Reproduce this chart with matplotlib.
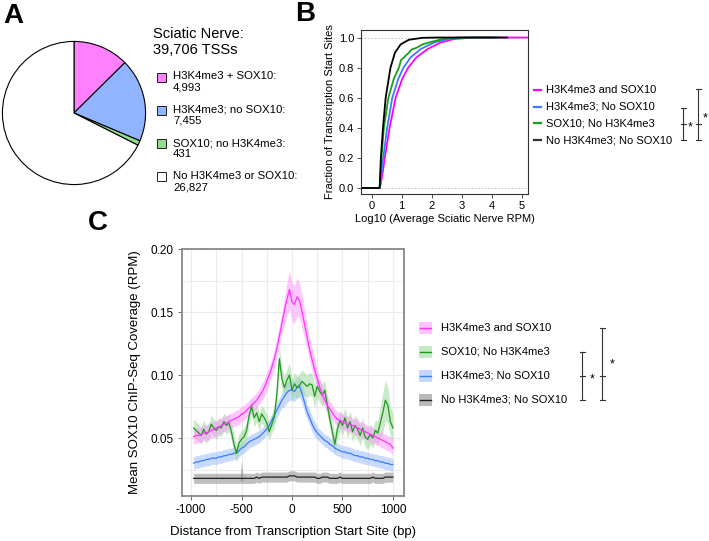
import matplotlib
matplotlib.use('Agg')
import matplotlib.pyplot as plt
import numpy as np
from matplotlib.patches import Rectangle

plt.rcParams['font.family'] = ['Liberation Sans', 'DejaVu Sans']
plt.rcParams['axes.unicode_minus'] = False

# ---- panel A: TSS categories ----
pie_labels = ['H3K4me3 + SOX10:', 'H3K4me3; no SOX10:', 'SOX10; no H3K4me3:', 'No H3K4me3 or SOX10:']
pie_counts = [4993, 7455, 431, 26827]
pie_colors = ['#ff80ff', '#90b4ff', '#90dd90', '#ffffff']

# ---- panel B: cumulative fraction of TSSs vs log10 RPM ----
b_labels = ['H3K4me3 and SOX10', 'H3K4me3; No SOX10', 'SOX10; No H3K4me3', 'No H3K4me3; No SOX10']
b_colors = ['#ff00ff', '#3a7bff', '#18a018', '#000000']
pink_x = [-0.35, 0.28, 0.36, 0.44, 0.6, 0.8, 1.02, 1.22, 1.49, 1.86, 2.3, 2.74, 3.36, 5.2]
pink_y = [0, 0, 0.088, 0.2, 0.4, 0.6, 0.725, 0.8, 0.868, 0.923, 0.967, 0.99, 1.0, 1.0]
blue_x = [-0.35, 0.27, 0.39, 0.52, 0.69, 0.89, 1.06, 1.3, 1.63, 2.08, 2.52, 3.1, 4.2]
blue_y = [0, 0, 0.2, 0.4, 0.6, 0.725, 0.8, 0.868, 0.923, 0.967, 0.99, 1.0, 1.0]
green_x = [-0.35, 0.27, 0.33, 0.41, 0.56, 0.74, 0.91, 0.98, 1.08, 1.24, 1.33, 1.52, 1.7, 1.91, 2.36, 2.9, 4.0]
green_y = [0, 0, 0.2, 0.4, 0.6, 0.725, 0.8, 0.85, 0.868, 0.9, 0.92, 0.934, 0.955, 0.967, 0.99, 1.0, 1.0]
black_x = [-0.35, 0.27, 0.31, 0.38, 0.47, 0.63, 0.78, 0.97, 1.24, 1.69, 2.2, 4.5]
black_y = [0, 0, 0.2, 0.4, 0.6, 0.8, 0.9, 0.955, 0.985, 0.998, 1.0, 1.0]

# ---- panel C: SOX10 ChIP-seq coverage around TSS ----
dist = np.arange(-975, 1001, 25)
c_labels = ['H3K4me3 and SOX10', 'SOX10; No H3K4me3', 'H3K4me3; No SOX10', 'No H3K4me3; No SOX10']
c_line = ['#ff33ff', '#1e9a1e', '#3a7bff', '#222222']
c_band = ['#ff99ff', '#9ed89e', '#9dbcff', '#8c8c8c']
pink_c = [.051, .052, .052, .053, .054, .054, .055, .056, .057, .058, .059, .060, .061, .062, .063, .064,
          .065, .066, .067, .069, .070, .072, .074, .076, .078, .080, .083, .086, .090, .095, .100, .106,
          .113, .121, .131, .141, .151, .160, .168, .158, .156, .162, .159, .150, .140, .130, .120, .112,
          .104, .097, .090, .085, .080, .076, .073, .070, .067, .065, .064, .063, .062, .061, .061, .060,
          .059, .058, .057, .056, .055, .054, .053, .052, .051, .050, .049, .048, .047, .046, .045, .042]
pink_se = [.006] * 27 + [.007] * 5 + [.008] * 4 + [.011, .013, .015, .015, .015, .015, .014, .013, .011] \
          + [.009] * 4 + [.007] * 3 + [.006] * 28
green_c = [.058, .056, .054, .052, .057, .053, .055, .061, .058, .056, .059, .058, .063, .060, .062, .055,
           .045, .038, .046, .049, .051, .056, .068, .075, .066, .070, .063, .069, .066, .062, .055, .061,
           .067, .085, .113, .097, .090, .096, .100, .088, .093, .090, .092, .095, .093, .091, .093, .092,
           .083, .091, .087, .084, .088, .076, .065, .055, .045, .057, .064, .060, .066, .058, .063, .055,
           .060, .057, .052, .058, .051, .049, .053, .050, .056, .054, .062, .070, .080, .076, .063, .058]
green_se = [.007] * 32 + [.009] * 20 + [.008] * 21 + [.010, .013, .016, .016, .014, .012, .011]
blue_c = [.030, .031, .031, .032, .032, .033, .033, .034, .034, .034, .035, .035, .036, .036, .037, .037,
          .038, .038, .040, .042, .043, .045, .047, .048, .049, .050, .051, .053, .055, .057, .060, .064,
          .068, .072, .076, .080, .083, .086, .088, .088, .087, .090, .091, .085, .078, .071, .066, .061,
          .057, .054, .052, .050, .048, .047, .045, .044, .042, .041, .040, .039, .039, .038, .038, .037,
          .036, .036, .035, .035, .034, .034, .033, .033, .032, .032, .031, .031, .030, .030, .029, .029]
blue_se = [.005] * 32 + [.006] * 4 + [.008] * 9 + [.006] * 4 + [.005] * 31
black_c = [.018, .018, .018, .018, .018, .018, .018, .018, .018, .018, .018, .018, .018, .018, .018, .018,
           .018, .018, .018, .018, .018, .018, .018, .018, .018, .019, .018, .019, .019, .019, .019, .019,
           .019, .019, .019, .019, .019, .019, .020, .020, .020, .019, .019, .019, .019, .019, .019, .019,
           .019, .018, .018, .019, .019, .019, .018, .018, .018, .018, .019, .018, .018, .018, .018, .018,
           .018, .018, .018, .018, .018, .018, .018, .019, .018, .018, .018, .018, .019, .019, .019, .019]
black_se = [.004] * 80
spike_x = [-512, -500, -488]
spike_hi = [.022, .032, .022]

fig = plt.figure(figsize=(7.09, 5.41), dpi=100)
W, H = 709, 541


def box(left, top, right, bottom):
    return [left / W, (H - bottom) / H, (right - left) / W, (bottom - top) / H]


# overlay for labels / legends / brackets, in pixel units
ov = fig.add_axes([0, 0, 1, 1], zorder=5)
ov.set_xlim(0, W)
ov.set_ylim(H, 0)
ov.axis('off')

# ===== A =====
axa = fig.add_axes(box(1, 40, 147, 186))
axa.pie(pie_counts, colors=pie_colors, startangle=90, counterclock=False,
        wedgeprops=dict(edgecolor='black', linewidth=0.8))
axa.set_xlim(-1.02, 1.02)
axa.set_ylim(-1.02, 1.02)

ov.text(153, 42, 'Sciatic Nerve:\n39,706 TSSs', fontsize=10.5, ha='left', va='center', linespacing=1.15)
for i, (lab, n) in enumerate(zip(pie_labels, pie_counts)):
    y = 77 + i * 33.3
    ov.add_patch(Rectangle((157, y - 4.5), 9, 9, facecolor=pie_colors[i], edgecolor='black', lw=0.6))
    ov.text(173, y + 5, lab + '\n' + f'{n:,}', fontsize=8.2, ha='left', va='center', linespacing=1.15)

# ===== B =====
axb = fig.add_axes(box(361, 30, 528, 194))
axb.axhline(0, color='#bbbbbb', lw=0.6, ls=(0, (2, 2)))
axb.axhline(1, color='#bbbbbb', lw=0.6, ls=(0, (2, 2)))
for xs, ys, col in [(pink_x, pink_y, b_colors[0]), (blue_x, blue_y, b_colors[1]),
                    (green_x, green_y, b_colors[2]), (black_x, black_y, b_colors[3])]:
    axb.plot(xs, ys, color=col, lw=1.3)
axb.set_xlim(-0.35, 5.2)
axb.set_ylim(-0.04, 1.05)
axb.set_xticks([0, 1, 2, 3, 4, 5])
axb.set_yticks([0, 0.2, 0.4, 0.6, 0.8, 1.0])
axb.set_yticklabels(['0.0', '0.2', '0.4', '0.6', '0.8', '1.0'])
axb.tick_params(labelsize=8, length=3, width=0.6, color='#333333', pad=2)
for s in axb.spines.values():
    s.set_color('#333333')
    s.set_linewidth(0.8)
axb.set_xlabel('Log10 (Average Sciatic Nerve RPM)', fontsize=8, labelpad=2)
axb.set_ylabel('Fraction of Transcription Start Sites', fontsize=8, labelpad=3)

for i, lab in enumerate(b_labels):
    y = 90 + i * 16.7
    ov.plot([534, 541], [y, y], color=b_colors[i] if i < 3 else '#333333', lw=1.6)
    ov.text(546, y, lab, fontsize=8, ha='left', va='center')


def bracket(x, y0, y1, ym, lw=0.8, col='#333333'):
    ov.plot([x, x], [y0, y1], color=col, lw=lw)
    for yy in (y0, y1, ym):
        ov.plot([x - 2.5, x + 2.5], [yy, yy], color=col, lw=lw)


bracket(683, 108, 140, 124)
ov.text(690, 127, '*', fontsize=9, ha='center', va='center')
bracket(698, 89, 140, 124)
ov.text(705, 118, '*', fontsize=9, ha='center', va='center')

# ===== C =====
axc = fig.add_axes(box(182, 249, 404, 496))
series = [(pink_c, pink_se), (green_c, green_se), (blue_c, blue_se), (black_c, black_se)]
for k in [3, 2, 1, 0]:
    m, se = np.array(series[k][0]), np.array(series[k][1])
    axc.fill_between(dist, m - se, m + se, color=c_band[k], alpha=0.55, lw=0)
    if k == 3:
        axc.fill_between(spike_x, [.016, .016, .016], spike_hi, color=c_band[k], alpha=0.55, lw=0)
for k in [3, 2, 1, 0]:
    axc.plot(dist, series[k][0], color=c_line[k], lw=0.9)
axc.set_xlim(-1090, 1110)
axc.set_ylim(0.004, 0.2)
axc.set_xticks([-1000, -500, 0, 500, 1000])
axc.set_xticks([-750, -250, 250, 750], minor=True)
axc.set_yticks([0.05, 0.10, 0.15, 0.20])
axc.set_yticklabels(['0.05', '0.10', '0.15', '0.20'])
axc.set_yticks([0.025, 0.075, 0.125, 0.175], minor=True)
axc.grid(which='both', color='#ebebeb', lw=0.8)
axc.set_axisbelow(True)
axc.tick_params(which='major', labelsize=8.5, length=3, width=0.6, color='#555555', pad=3)
axc.tick_params(which='minor', length=0)
for s in axc.spines.values():
    s.set_color('#888888')
    s.set_linewidth(1.3)
axc.set_xlabel('Distance from Transcription Start Site (bp)', fontsize=9.5, labelpad=7)
axc.set_ylabel('Mean SOX10 ChIP-Seq Coverage (RPM)', fontsize=9.5, labelpad=7)

for i, lab in enumerate(c_labels):
    y = 328 + i * 24
    ov.add_patch(Rectangle((419, y - 6), 13, 12, facecolor=c_band[i], alpha=0.6, lw=0))
    ov.plot([420, 431], [y, y], color=c_line[i], lw=1.0)
    ov.text(441, y, lab, fontsize=8, ha='left', va='center')

bracket(582, 352, 400, 376)
ov.text(592, 379, '*', fontsize=9, ha='center', va='center')
bracket(602, 328, 400, 376)
ov.text(612, 364, '*', fontsize=9, ha='center', va='center')

# panel letters
ov.text(13, 16, 'A', fontsize=20, fontweight='bold', ha='center', va='center')
ov.text(305, 14, 'B', fontsize=20, fontweight='bold', ha='center', va='center')
ov.text(98, 223, 'C', fontsize=20, fontweight='bold', ha='center', va='center')

fig.savefig('out.png', dpi=100)
